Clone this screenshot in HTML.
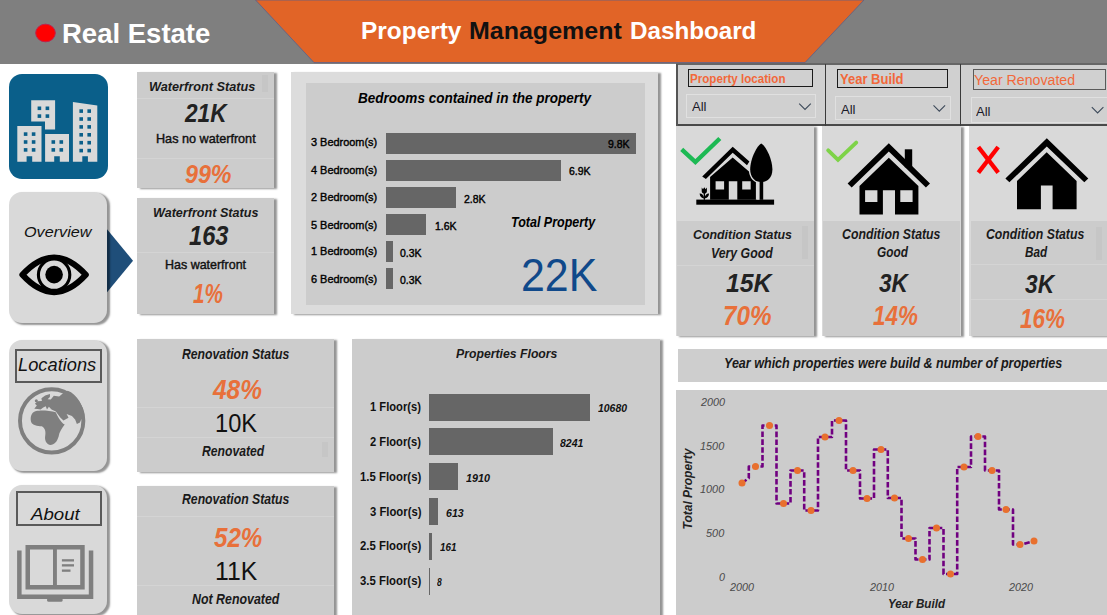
<!DOCTYPE html>
<html><head><meta charset="utf-8"><title>Property Management Dashboard</title>
<style>
html,body{margin:0;padding:0;background:#fff;}
body{width:1107px;height:615px;position:relative;overflow:hidden;font-family:"Liberation Sans",sans-serif;}
.t{position:absolute;white-space:nowrap;line-height:1;transform-origin:0 50%;}
.r{position:absolute;}
svg{position:absolute;left:0;top:0;overflow:visible;}
</style></head><body>
<div class="r" style="left:0.0px;top:0.0px;width:1107.0px;height:63.5px;background:#7F7F7F;"></div>
<svg width="1107" height="70"><polygon points="255.5,0 864,0 805,62.6 314,62.6" fill="#E16427" stroke="#5A5F8C" stroke-width="0.8"/></svg>
<svg width="1107" height="70"><ellipse cx="45.5" cy="33" rx="9.8" ry="8.8" fill="#FF0000" stroke="#C0204A" stroke-width="1"/></svg>
<span class="t" style="left:61.6px;top:18.7px;font-size:28.2px;font-weight:bold;font-style:normal;color:#fff;transform:scaleX(0.976);">Real Estate</span>
<span class="t" style="left:361.2px;top:19.2px;font-size:24.6px;font-weight:bold;font-style:normal;color:#fff;transform:scaleX(0.993);">Property</span>
<span class="t" style="left:468.7px;top:19.2px;font-size:24.6px;font-weight:bold;font-style:normal;color:#111;transform:scaleX(1.016);">Management</span>
<span class="t" style="left:630.2px;top:19.2px;font-size:24.6px;font-weight:bold;font-style:normal;color:#fff;transform:scaleX(0.984);">Dashboard</span>
<div class="r" style="left:9.0px;top:74.0px;width:98.5px;height:105.0px;background:#0A5F8A;border-radius:13px;"></div>
<svg width="140" height="200"><g fill="#D9D9D9">
<path d="M31.2,100.3H55.1V129.5H45V121.5H31.2Z"/>
<path d="M17.3,126H41.5V161.8H32.2V156.3H26.6V161.8H17.3Z"/>
<path d="M45.1,134H69V161.8H59.8V156.3H54.2V161.8H45.1Z"/>
<path d="M72.9,102.1L97.3,105.6V161.8H87.9V156.3H82.3V161.8H72.9Z"/>
</g><g fill="#0A5F8A"><rect x="37.6" y="106.5" width="3.6" height="3.6"/><rect x="37.6" y="114.3" width="3.6" height="3.6"/><rect x="45.6" y="106.5" width="3.6" height="3.6"/><rect x="45.6" y="114.3" width="3.6" height="3.6"/><rect x="23.8" y="132.3" width="3.6" height="3.6"/><rect x="23.8" y="140.2" width="3.6" height="3.6"/><rect x="23.8" y="148.1" width="3.6" height="3.6"/><rect x="31.8" y="132.3" width="3.6" height="3.6"/><rect x="31.8" y="140.2" width="3.6" height="3.6"/><rect x="31.8" y="148.1" width="3.6" height="3.6"/><rect x="51.5" y="140.2" width="3.6" height="3.6"/><rect x="51.5" y="148.1" width="3.6" height="3.6"/><rect x="59.5" y="140.2" width="3.6" height="3.6"/><rect x="59.5" y="148.1" width="3.6" height="3.6"/><rect x="79.4" y="109.3" width="3.6" height="3.6"/><rect x="79.4" y="117.2" width="3.6" height="3.6"/><rect x="79.4" y="125.1" width="3.6" height="3.6"/><rect x="79.4" y="133.0" width="3.6" height="3.6"/><rect x="79.4" y="140.9" width="3.6" height="3.6"/><rect x="79.4" y="148.8" width="3.6" height="3.6"/><rect x="87.4" y="109.3" width="3.6" height="3.6"/><rect x="87.4" y="117.2" width="3.6" height="3.6"/><rect x="87.4" y="125.1" width="3.6" height="3.6"/><rect x="87.4" y="133.0" width="3.6" height="3.6"/><rect x="87.4" y="140.9" width="3.6" height="3.6"/><rect x="87.4" y="148.8" width="3.6" height="3.6"/></g></svg>
<svg width="140" height="330"><polygon points="106,228 133,260.7 106,293.5" fill="#1F4E79"/></svg>
<div class="r" style="left:9.0px;top:192.3px;width:98.3px;height:131.2px;background:#D9D9D9;border-radius:13px;box-shadow:2.4px 1.2px 1.8px rgba(0,0,0,.42);"></div>
<span class="t" style="left:24.2px;top:224.0px;font-size:15.0px;font-weight:normal;font-style:italic;color:#111;transform:scaleX(1.079);">Overview</span>
<svg width="140" height="330"><path d="M22.4,274.8 Q54.1,240.2 85.8,274.8 Q54.1,309.4 22.4,274.8Z" fill="#D9D9D9" stroke="#000" stroke-width="6.1" stroke-linejoin="round"/>
<circle cx="54.1" cy="274.7" r="15.7" fill="#D9D9D9" stroke="#000" stroke-width="3.1"/><circle cx="54.1" cy="274.6" r="8.8" fill="#000"/></svg>
<div class="r" style="left:9.3px;top:339.8px;width:98.0px;height:131.2px;background:#D9D9D9;border-radius:13px;box-shadow:2.4px 1.2px 1.8px rgba(0,0,0,.42);"></div>
<div class="r" style="left:15.4px;top:349.0px;width:86.6px;height:34.0px;background:transparent;box-sizing:border-box;border:2.3px solid #5a5a5a;"></div>
<span class="t" style="left:18.3px;top:355.7px;font-size:18.8px;font-weight:normal;font-style:italic;color:#111;transform:scaleX(0.973);">Locations</span>
<svg width="140" height="480"><g transform="translate(12,382) scale(0.12674)">
<circle cx="313" cy="306.5" r="250" fill="none" stroke="#7F7F7F" stroke-width="31"/>
<g fill="#7F7F7F">
<path d="M172,236 C150,250 142,285 152,318 C160,340 200,348 235,350 C262,365 268,395 262,425 C256,460 270,490 300,497 C335,498 355,470 368,430 C372,395 395,365 416,336 C400,330 385,310 372,290 C362,272 352,255 345,238 C310,228 250,224 215,226 C195,226 182,230 172,236 Z"/>
<path d="M176,212 L196,186 L181,171 L202,152 L236,149 L232,129 L262,106 L300,95 L299,118 L281,136 L306,138 L330,109 L372,114 L405,86 L440,70 C510,95 572,190 572,292 L548,292 L536,320 L512,331 L498,296 L473,269 L446,259 L431,252 L446,283 L406,304 L381,281 L359,250 L346,232 L312,216 L291,196 L276,216 L266,191 L246,201 L226,216 L201,213 Z"/>
<circle cx="192" cy="148" r="12"/>
</g></g></svg>
<div class="r" style="left:9.1px;top:485.2px;width:98.0px;height:128.6px;background:#D9D9D9;border-radius:13px;box-shadow:2.4px 1.2px 1.8px rgba(0,0,0,.42);"></div>
<div class="r" style="left:15.5px;top:491.4px;width:86.3px;height:34.8px;background:transparent;box-sizing:border-box;border:2.3px solid #5a5a5a;"></div>
<span class="t" style="left:30.5px;top:506.0px;font-size:17.4px;font-weight:normal;font-style:italic;color:#111;transform:scaleX(1.074);">About</span>
<svg width="140" height="615"><g fill="#7F7F7F">
<path d="M17.1,550.6H21.6V594.5H88.8V550.6H93.3V599H17.1Z"/>
<path d="M25.5,545.1H84.7V589.5H25.5Z M30,549.6V585H53V549.6Z M56.9,549.6V585H80.2V549.6Z" fill-rule="evenodd"/>
<rect x="61.9" y="559.2" width="12.1" height="2.3"/><rect x="61.9" y="564.2" width="12.1" height="2.3"/><rect x="61.9" y="569.5" width="8.6" height="2.3"/>
<path d="M47.1,599H62.6V600.3Q62.6,601.8 61,601.8H48.7Q47.1,601.8 47.1,600.3Z"/>
</g></svg>
<div class="r" style="left:137.4px;top:72.4px;width:137.0px;height:116.0px;background:#CCCCCC;box-shadow:2.6px 1px 1.8px rgba(0,0,0,.42);"></div>
<div class="r" style="left:137.4px;top:97.5px;width:137.0px;height:1.0px;background:#D4D4D4;"></div>
<div class="r" style="left:137.4px;top:157.7px;width:137.0px;height:1.0px;background:#D4D4D4;"></div>
<div class="r" style="left:262.0px;top:75.0px;width:6.0px;height:17.0px;background:#C6C6C6;"></div>
<span class="t" style="left:149.0px;top:79.5px;font-size:13.4px;font-weight:bold;font-style:italic;color:#1a1a1a;transform:scaleX(0.948);">Waterfront Status</span>
<span class="t" style="left:184.6px;top:101.4px;font-size:24.9px;font-weight:bold;font-style:italic;color:#222;transform:scaleX(0.908);">21K</span>
<span class="t" style="left:155.8px;top:132.7px;font-size:12.2px;font-weight:normal;font-style:normal;color:#111;transform:scaleX(1.036);-webkit-text-stroke:0.4px currentColor;">Has no waterfront</span>
<span class="t" style="left:184.5px;top:161.5px;font-size:25.9px;font-weight:bold;font-style:italic;color:#E8703A;transform:scaleX(0.898);">99%</span>
<div class="r" style="left:137.4px;top:198.0px;width:137.0px;height:116.3px;background:#CCCCCC;box-shadow:2.6px 1px 1.8px rgba(0,0,0,.42);"></div>
<div class="r" style="left:137.4px;top:252.0px;width:137.0px;height:1.0px;background:#D4D4D4;"></div>
<span class="t" style="left:152.8px;top:207.3px;font-size:12.8px;font-weight:bold;font-style:italic;color:#1a1a1a;transform:scaleX(0.984);">Waterfront Status</span>
<span class="t" style="left:188.8px;top:223.3px;font-size:26.8px;font-weight:bold;font-style:italic;color:#222;transform:scaleX(0.884);">163</span>
<span class="t" style="left:164.9px;top:258.7px;font-size:12.2px;font-weight:normal;font-style:normal;color:#111;transform:scaleX(1.023);-webkit-text-stroke:0.4px currentColor;">Has waterfront</span>
<span class="t" style="left:193.0px;top:279.9px;font-size:27.3px;font-weight:bold;font-style:italic;color:#E8703A;transform:scaleX(0.759);">1%</span>
<div class="r" style="left:291.4px;top:72.4px;width:367.0px;height:241.8px;background:#DCDCDC;box-shadow:2.6px 1px 1.8px rgba(0,0,0,.42);"></div>
<div class="r" style="left:305.5px;top:82.7px;width:339.2px;height:222.0px;background:#CCCCCC;"></div>
<span class="t" style="left:358.3px;top:91.8px;font-size:13.8px;font-weight:bold;font-style:italic;color:#000;transform:scaleX(0.981);">Bedrooms contained in the property</span>
<div class="r" style="left:385.7px;top:133.2px;width:250.4px;height:20.5px;background:#666666;"></div>
<span class="t" style="left:311.2px;top:136.0px;font-size:11.7px;font-weight:normal;font-style:normal;color:#000;transform:scaleX(0.934);-webkit-text-stroke:0.4px currentColor;">3 Bedroom(s)</span>
<span class="t" style="left:607.7px;top:138.6px;font-size:11.2px;font-weight:normal;font-style:normal;color:#000;transform:scaleX(0.937);-webkit-text-stroke:0.4px currentColor;">9.8K</span>
<div class="r" style="left:385.7px;top:160.2px;width:175.3px;height:20.5px;background:#666666;"></div>
<span class="t" style="left:311.2px;top:164.1px;font-size:11.7px;font-weight:normal;font-style:normal;color:#000;transform:scaleX(0.934);-webkit-text-stroke:0.4px currentColor;">4 Bedroom(s)</span>
<span class="t" style="left:568.5px;top:165.7px;font-size:11.2px;font-weight:normal;font-style:normal;color:#000;transform:scaleX(0.937);-webkit-text-stroke:0.4px currentColor;">6.9K</span>
<div class="r" style="left:385.7px;top:187.3px;width:70.4px;height:20.5px;background:#666666;"></div>
<span class="t" style="left:311.2px;top:190.7px;font-size:11.7px;font-weight:normal;font-style:normal;color:#000;transform:scaleX(0.934);-webkit-text-stroke:0.4px currentColor;">2 Bedroom(s)</span>
<span class="t" style="left:463.6px;top:194.3px;font-size:11.2px;font-weight:normal;font-style:normal;color:#000;transform:scaleX(0.937);-webkit-text-stroke:0.4px currentColor;">2.8K</span>
<div class="r" style="left:385.7px;top:214.3px;width:40.8px;height:20.5px;background:#666666;"></div>
<span class="t" style="left:311.2px;top:219.1px;font-size:11.7px;font-weight:normal;font-style:normal;color:#000;transform:scaleX(0.934);-webkit-text-stroke:0.4px currentColor;">5 Bedroom(s)</span>
<span class="t" style="left:434.5px;top:220.7px;font-size:11.2px;font-weight:normal;font-style:normal;color:#000;transform:scaleX(0.937);-webkit-text-stroke:0.4px currentColor;">1.6K</span>
<div class="r" style="left:385.7px;top:241.4px;width:6.9px;height:20.5px;background:#666666;"></div>
<span class="t" style="left:311.2px;top:245.0px;font-size:11.7px;font-weight:normal;font-style:normal;color:#000;transform:scaleX(0.934);-webkit-text-stroke:0.4px currentColor;">1 Bedroom(s)</span>
<span class="t" style="left:399.9px;top:247.6px;font-size:11.2px;font-weight:normal;font-style:normal;color:#000;transform:scaleX(0.937);-webkit-text-stroke:0.4px currentColor;">0.3K</span>
<div class="r" style="left:385.7px;top:268.4px;width:6.9px;height:20.5px;background:#666666;"></div>
<span class="t" style="left:311.2px;top:273.1px;font-size:11.7px;font-weight:normal;font-style:normal;color:#000;transform:scaleX(0.934);-webkit-text-stroke:0.4px currentColor;">6 Bedroom(s)</span>
<span class="t" style="left:399.9px;top:274.7px;font-size:11.2px;font-weight:normal;font-style:normal;color:#000;transform:scaleX(0.937);-webkit-text-stroke:0.4px currentColor;">0.3K</span>
<span class="t" style="left:511.0px;top:216.0px;font-size:13.8px;font-weight:bold;font-style:italic;color:#000;transform:scaleX(0.905);">Total Property</span>
<span class="t" style="left:520.9px;top:251.7px;font-size:46.6px;font-weight:normal;font-style:normal;color:#10498A;transform:scaleX(0.921);">22K</span>
<div class="r" style="left:137.3px;top:339.3px;width:196.5px;height:133.0px;background:#CCCCCC;box-shadow:2.6px 1px 1.8px rgba(0,0,0,.42);"></div>
<div class="r" style="left:137.3px;top:407.3px;width:196.5px;height:1.0px;background:#D4D4D4;"></div>
<div class="r" style="left:137.3px;top:437.0px;width:196.5px;height:1.0px;background:#D4D4D4;"></div>
<div class="r" style="left:322.0px;top:442.0px;width:6.0px;height:15.0px;background:#C6C6C6;"></div>
<span class="t" style="left:182.4px;top:347.4px;font-size:14.1px;font-weight:bold;font-style:italic;color:#1a1a1a;transform:scaleX(0.867);">Renovation Status</span>
<span class="t" style="left:212.9px;top:375.9px;font-size:27.1px;font-weight:bold;font-style:italic;color:#E8703A;transform:scaleX(0.902);">48%</span>
<span class="t" style="left:214.9px;top:410.1px;font-size:26.3px;font-weight:normal;font-style:normal;color:#111;transform:scaleX(0.898);">10K</span>
<span class="t" style="left:201.5px;top:443.8px;font-size:14.0px;font-weight:bold;font-style:italic;color:#1a1a1a;transform:scaleX(0.869);">Renovated</span>
<div class="r" style="left:137.3px;top:485.7px;width:197.0px;height:140.0px;background:#CCCCCC;box-shadow:2.6px 1px 1.8px rgba(0,0,0,.42);"></div>
<div class="r" style="left:137.3px;top:516.4px;width:197.0px;height:1.0px;background:#D4D4D4;"></div>
<div class="r" style="left:137.3px;top:585.2px;width:197.0px;height:1.0px;background:#D4D4D4;"></div>
<span class="t" style="left:182.4px;top:492.3px;font-size:14.1px;font-weight:bold;font-style:italic;color:#1a1a1a;transform:scaleX(0.868);">Renovation Status</span>
<span class="t" style="left:213.8px;top:522.5px;font-size:28.2px;font-weight:bold;font-style:italic;color:#E8703A;transform:scaleX(0.856);">52%</span>
<span class="t" style="left:215.4px;top:558.0px;font-size:26.2px;font-weight:normal;font-style:normal;color:#111;transform:scaleX(0.945);">11K</span>
<span class="t" style="left:192.2px;top:591.8px;font-size:14.1px;font-weight:bold;font-style:italic;color:#1a1a1a;transform:scaleX(0.879);">Not Renovated</span>
<div class="r" style="left:351.6px;top:339.2px;width:308.0px;height:277.0px;background:#CCCCCC;box-shadow:2.6px 1px 1.8px rgba(0,0,0,.42);"></div>
<span class="t" style="left:455.9px;top:347.3px;font-size:13.7px;font-weight:bold;font-style:italic;color:#1a1a1a;transform:scaleX(0.895);">Properties Floors</span>
<div class="r" style="left:428.9px;top:393.7px;width:161.2px;height:27.0px;background:#666666;"></div>
<span class="t" style="left:370.3px;top:400.5px;font-size:12.8px;font-weight:bold;font-style:normal;color:#111;transform:scaleX(0.873);">1 Floor(s)</span>
<span class="t" style="left:597.8px;top:402.1px;font-size:11.7px;font-weight:bold;font-style:italic;color:#111;transform:scaleX(0.892);">10680</span>
<div class="r" style="left:428.9px;top:428.4px;width:123.8px;height:27.0px;background:#666666;"></div>
<span class="t" style="left:370.3px;top:436.3px;font-size:12.8px;font-weight:bold;font-style:normal;color:#111;transform:scaleX(0.873);">2 Floor(s)</span>
<span class="t" style="left:560.2px;top:437.0px;font-size:11.7px;font-weight:bold;font-style:italic;color:#111;transform:scaleX(0.899);">8241</span>
<div class="r" style="left:428.9px;top:463.2px;width:28.8px;height:27.0px;background:#666666;"></div>
<span class="t" style="left:359.9px;top:471.2px;font-size:12.8px;font-weight:bold;font-style:normal;color:#111;transform:scaleX(0.888);">1.5 Floor(s)</span>
<span class="t" style="left:465.7px;top:471.8px;font-size:11.7px;font-weight:bold;font-style:italic;color:#111;transform:scaleX(0.922);">1910</span>
<div class="r" style="left:428.9px;top:497.9px;width:9.4px;height:27.0px;background:#666666;"></div>
<span class="t" style="left:369.7px;top:506.0px;font-size:12.8px;font-weight:bold;font-style:normal;color:#111;transform:scaleX(0.883);">3 Floor(s)</span>
<span class="t" style="left:445.7px;top:506.7px;font-size:11.7px;font-weight:bold;font-style:italic;color:#111;transform:scaleX(0.904);">613</span>
<div class="r" style="left:428.9px;top:532.7px;width:2.8px;height:27.0px;background:#666666;"></div>
<span class="t" style="left:359.9px;top:539.9px;font-size:12.8px;font-weight:bold;font-style:normal;color:#111;transform:scaleX(0.888);">2.5 Floor(s)</span>
<span class="t" style="left:439.5px;top:540.5px;font-size:11.7px;font-weight:bold;font-style:italic;color:#111;transform:scaleX(0.843);">161</span>
<div class="r" style="left:428.9px;top:567.5px;width:1.1px;height:27.0px;background:#666666;"></div>
<span class="t" style="left:359.9px;top:574.7px;font-size:12.8px;font-weight:bold;font-style:normal;color:#111;transform:scaleX(0.888);">3.5 Floor(s)</span>
<span class="t" style="left:437.4px;top:576.4px;font-size:11.7px;font-weight:bold;font-style:italic;color:#111;transform:scaleX(0.726);">8</span>
<div class="r" style="left:676.0px;top:63.5px;width:431.0px;height:62.0px;background:#D0D0D0;"></div>
<div class="r" style="left:676.0px;top:63.2px;width:431.0px;height:1.6px;background:#666;"></div>
<div class="r" style="left:676.0px;top:124.2px;width:431.0px;height:1.9px;background:#4a4a4a;"></div>
<div class="r" style="left:676.0px;top:63.5px;width:1.7px;height:62.0px;background:#555;"></div>
<div class="r" style="left:824.8px;top:63.5px;width:1.7px;height:62.0px;background:#3a3a3a;"></div>
<div class="r" style="left:959.8px;top:63.5px;width:1.7px;height:62.0px;background:#3a3a3a;"></div>
<div class="r" style="left:688.3px;top:69.0px;width:124.4px;height:17.8px;background:transparent;box-sizing:border-box;border:1.8px solid #1a1a1a;"></div>
<div class="r" style="left:686.3px;top:94.4px;width:129.4px;height:23.8px;background:transparent;box-sizing:border-box;border:1.3px solid #E0E0E0;"></div>
<span class="t" style="left:690.0px;top:72.5px;font-size:12.9px;font-weight:bold;font-style:normal;color:#F2683A;transform:scaleX(0.901);">Property location</span>
<span class="t" style="left:691.9px;top:99.7px;font-size:13.4px;font-weight:normal;font-style:normal;color:#1a1a2a;transform:scaleX(0.976);">All</span>
<svg width="1107" height="130"><polyline points="799.2,103.7 805.0,109.5 810.8,103.7" fill="none" stroke="#3d4a5a" stroke-width="1.1"/></svg>
<div class="r" style="left:837.4px;top:69.0px;width:110.2px;height:19.4px;background:transparent;box-sizing:border-box;border:1.8px solid #1a1a1a;"></div>
<div class="r" style="left:835.4px;top:95.8px;width:115.2px;height:24.4px;background:transparent;box-sizing:border-box;border:1.3px solid #E0E0E0;"></div>
<span class="t" style="left:839.5px;top:72.3px;font-size:14.4px;font-weight:bold;font-style:normal;color:#F2683A;transform:scaleX(0.903);">Year Build</span>
<span class="t" style="left:841.0px;top:103.3px;font-size:13.4px;font-weight:normal;font-style:normal;color:#1a1a2a;transform:scaleX(0.976);">All</span>
<svg width="1107" height="130"><polyline points="933.5,105.4 939.3,111.2 945.1,105.4" fill="none" stroke="#3d4a5a" stroke-width="1.1"/></svg>
<div class="r" style="left:972.5px;top:69.3px;width:133.5px;height:21.1px;background:transparent;box-sizing:border-box;border:1.6px solid #5a5a5a;"></div>
<div class="r" style="left:970.5px;top:97.1px;width:141.5px;height:25.5px;background:transparent;box-sizing:border-box;border:1.3px solid #E0E0E0;"></div>
<span class="t" style="left:974.0px;top:72.8px;font-size:14.7px;font-weight:normal;font-style:normal;color:#F2683A;transform:scaleX(0.965);">Year Renovated</span>
<span class="t" style="left:976.0px;top:105.3px;font-size:13.4px;font-weight:normal;font-style:normal;color:#1a1a2a;transform:scaleX(0.976);">All</span>
<svg width="1107" height="130"><polyline points="1091.8,107.2 1097.6,113.0 1103.4,107.2" fill="none" stroke="#3d4a5a" stroke-width="1.1"/></svg>
<div class="r" style="left:676.0px;top:125.7px;width:138.4px;height:210.0px;background:#D9D9D9;box-shadow:2.6px 1px 1.8px rgba(0,0,0,.42);"></div>
<div class="r" style="left:677.2px;top:221.3px;width:136.6px;height:114.4px;background:#CCCCCC;"></div>
<div class="r" style="left:677.2px;top:264.5px;width:136.6px;height:1.0px;background:#D4D4D4;"></div>
<div class="r" style="left:822.2px;top:125.7px;width:138.8px;height:210.0px;background:#D9D9D9;box-shadow:2.6px 1px 1.8px rgba(0,0,0,.42);"></div>
<div class="r" style="left:823.4px;top:221.3px;width:137.0px;height:114.4px;background:#CCCCCC;"></div>
<div class="r" style="left:969.4px;top:125.7px;width:142.6px;height:210.0px;background:#D9D9D9;box-shadow:2.6px 1px 1.8px rgba(0,0,0,.42);"></div>
<div class="r" style="left:970.6px;top:221.3px;width:140.8px;height:114.4px;background:#CCCCCC;"></div>
<div class="r" style="left:970.6px;top:263.8px;width:140.8px;height:1.0px;background:#D4D4D4;"></div>
<div class="r" style="left:970.6px;top:298.9px;width:140.8px;height:1.0px;background:#D4D4D4;"></div>
<div class="r" style="left:802.0px;top:226.0px;width:6.0px;height:33.0px;background:#C6C6C6;"></div>
<div class="r" style="left:1095.5px;top:226.5px;width:6.2px;height:33.0px;background:#C6C6C6;"></div>
<span class="t" style="left:692.8px;top:228.3px;font-size:13.7px;font-weight:bold;font-style:italic;color:#1a1a1a;transform:scaleX(0.904);">Condition Status</span>
<span class="t" style="left:711.2px;top:246.0px;font-size:14.1px;font-weight:bold;font-style:italic;color:#1a1a1a;transform:scaleX(0.872);">Very Good</span>
<span class="t" style="left:726.0px;top:271.3px;font-size:25.9px;font-weight:bold;font-style:italic;color:#222;transform:scaleX(0.958);">15K</span>
<span class="t" style="left:722.9px;top:302.1px;font-size:27.5px;font-weight:bold;font-style:italic;color:#E8703A;transform:scaleX(0.882);">70%</span>
<span class="t" style="left:842.2px;top:228.4px;font-size:13.8px;font-weight:bold;font-style:italic;color:#1a1a1a;transform:scaleX(0.892);">Condition Status</span>
<span class="t" style="left:876.5px;top:244.8px;font-size:14.1px;font-weight:bold;font-style:italic;color:#1a1a1a;transform:scaleX(0.839);">Good</span>
<span class="t" style="left:879.1px;top:270.5px;font-size:25.8px;font-weight:bold;font-style:italic;color:#222;transform:scaleX(0.872);">3K</span>
<span class="t" style="left:873.0px;top:301.9px;font-size:27.3px;font-weight:bold;font-style:italic;color:#E8703A;transform:scaleX(0.821);">14%</span>
<span class="t" style="left:985.7px;top:228.4px;font-size:13.8px;font-weight:bold;font-style:italic;color:#1a1a1a;transform:scaleX(0.890);">Condition Status</span>
<span class="t" style="left:1024.7px;top:244.8px;font-size:14.1px;font-weight:bold;font-style:italic;color:#1a1a1a;transform:scaleX(0.832);">Bad</span>
<span class="t" style="left:1025.2px;top:271.4px;font-size:26.5px;font-weight:bold;font-style:italic;color:#222;transform:scaleX(0.857);">3K</span>
<span class="t" style="left:1020.2px;top:306.1px;font-size:26.9px;font-weight:bold;font-style:italic;color:#E8703A;transform:scaleX(0.834);">16%</span>
<svg width="1107" height="240">
<!-- card1 -->
<polyline points="681.7,149.3 695.4,162 719.8,138.5" fill="none" stroke="#1DB954" stroke-width="4.4"/>
<g fill="#000">
<rect x="696.3" y="199.6" width="77.8" height="5.1"/>
<path d="M702.2,176.5 L732.7,146.8 L749.4,161.4 L747,165.3 L732.7,152.7 L705.9,178.9 Z"/>
<path d="M710.1,199.8 V177.1 L732.7,157.6 L755.9,177.6 V199.8 H737.3 V181.3 H728.8 V199.8 Z M715.6,181.3 V189.6 H724.1 V181.3 Z M742.2,181.3 V189.6 H750.7 V181.3 Z" fill-rule="evenodd"/>
<rect x="756.5" y="180" width="3.2" height="19.6" fill="#D9D9D9"/>
<path d="M761.3,143.6 C765.5,145.5 772.4,159 772.4,169.5 C772.4,177.5 767.5,182 761.3,182 C755.1,182 750.2,177.5 750.2,169.5 C750.2,159 757.1,145.5 761.3,143.6 Z" stroke="#D9D9D9" stroke-width="2.6" paint-order="stroke"/>
<rect x="759.6" y="178" width="3.6" height="21.8"/>
<path d="M701.7,187.6 L703,189.3 L704.3,187.2 L705.6,189.3 L706.9,187.6 V191.2 C706.9,192.8 705.7,193.6 704.3,193.6 C702.9,193.6 701.7,192.8 701.7,191.2 Z"/>
<rect x="703.7" y="193" width="1.3" height="6.8"/>
<path d="M699.6,193.6 C701.8,193.4 703.8,195 704.2,198.4 C701.6,198.4 699.8,196.6 699.6,193.6 Z M709.1,193.6 C706.9,193.4 704.9,195 704.5,198.4 C707.1,198.4 708.9,196.6 709.1,193.6 Z"/>
</g>
<!-- card2 -->
<polyline points="828.2,150.4 838,159.8 856.2,142.6" fill="none" stroke="#7ED348" stroke-width="3.9" stroke-linecap="round"/>
<g fill="#000">
<path d="M847.6,183.4 L888.8,143.2 L930,183.4 L925.9,187.4 L888.8,151.6 L851.7,187.4 Z"/>
<rect x="904.8" y="149.3" width="7.4" height="18"/>
<path d="M859.5,214.6 V186 L888.8,157.7 L918.4,186 V214.6 H895 V190.2 H882.9 V214.6 Z M865.1,190.2 V202 H877.4 V190.2 Z M900.3,190.2 V202 H912.6 V190.2 Z" fill-rule="evenodd"/>
</g>
<!-- card3 -->
<g stroke="#FF0000" stroke-width="4.3" fill="none"><line x1="978.4" y1="147" x2="998.2" y2="172.6"/><line x1="998.2" y1="147" x2="978.4" y2="172.6"/></g>
<g fill="#000">
<path d="M1005.4,178.4 L1046.8,138.3 L1088.3,178.4 L1084.3,182.3 L1046.8,146.6 L1009.4,182.3 Z"/>
<path d="M1017,209.2 V181 L1046.7,152.2 L1076.6,181 V209.2 H1052.6 V185.4 H1040.9 V209.2 Z"/>
</g>
</svg>
<div class="r" style="left:678.0px;top:349.1px;width:440.0px;height:32.6px;background:#CECECE;"></div>
<span class="t" style="left:724.3px;top:356.8px;font-size:13.8px;font-weight:bold;font-style:italic;color:#1a1a1a;transform:scaleX(0.909);">Year which properties were build &amp; number of properties</span>
<div class="r" style="left:676.2px;top:390.1px;width:440.0px;height:230.0px;background:#CCCCCC;"></div>
<span class="t" style="left:700.5px;top:397.4px;font-size:11.2px;font-weight:normal;font-style:italic;color:#4a4a4a;transform:scaleX(0.969);">2000</span>
<span class="t" style="left:700.4px;top:441.1px;font-size:11.2px;font-weight:normal;font-style:italic;color:#4a4a4a;transform:scaleX(0.973);">1500</span>
<span class="t" style="left:700.4px;top:484.2px;font-size:11.2px;font-weight:normal;font-style:italic;color:#4a4a4a;transform:scaleX(0.973);">1000</span>
<span class="t" style="left:706.4px;top:528.4px;font-size:11.2px;font-weight:normal;font-style:italic;color:#4a4a4a;transform:scaleX(0.976);">500</span>
<span class="t" style="left:718.7px;top:572.2px;font-size:11.2px;font-weight:normal;font-style:italic;color:#4a4a4a;transform:scaleX(0.963);">0</span>
<span class="t" style="left:730.3px;top:581.5px;font-size:11.2px;font-weight:normal;font-style:italic;color:#4a4a4a;transform:scaleX(0.965);">2000</span>
<span class="t" style="left:869.5px;top:581.5px;font-size:11.2px;font-weight:normal;font-style:italic;color:#4a4a4a;transform:scaleX(0.965);">2010</span>
<span class="t" style="left:1008.5px;top:581.5px;font-size:11.2px;font-weight:normal;font-style:italic;color:#4a4a4a;transform:scaleX(0.965);">2020</span>
<span class="t" style="left:888.0px;top:598.0px;font-size:12.9px;font-weight:bold;font-style:italic;color:#222;transform:scaleX(0.901);">Year Build</span>
<span class="t" style="left:688px;top:489px;font-size:12px;font-weight:bold;font-style:italic;color:#222;transform:translate(-50%,-50%) rotate(-90deg);transform-origin:50% 50%;">Total Property</span>
<svg width="1107" height="615"><path d="M742.0,483.0 L748.8,478.1 V466.5 H762.5 V425.5 H776.5 V503.5 H790.5 V470.5 H804.2 V510.5 H818.0 V437.0 H832.0 V420.5 H846.0 V470.5 H860.0 V498.5 H874.0 V449.5 H887.8 V498.0 H901.5 V538.5 H915.5 V559.5 H929.5 V528.0 H943.5 V574.0 H957.2 V467.0 H971.0 V436.5 H985.0 V470.5 H999.0 V509.5 H1013.0 V544.5 H1022.0 L1034.0,541.0" fill="none" stroke="#700080" stroke-width="2.6" stroke-dasharray="5.6 2.3" stroke-linejoin="round"/>
<g fill="#E8702E"><circle cx="742.0" cy="483.0" r="3.5"/><circle cx="755.5" cy="466.5" r="3.5"/><circle cx="769.5" cy="425.5" r="3.5"/><circle cx="783.5" cy="503.5" r="3.5"/><circle cx="797.5" cy="470.5" r="3.5"/><circle cx="811.0" cy="510.5" r="3.5"/><circle cx="825.0" cy="437.0" r="3.5"/><circle cx="839.0" cy="420.5" r="3.5"/><circle cx="853.0" cy="470.5" r="3.5"/><circle cx="867.0" cy="498.5" r="3.5"/><circle cx="881.0" cy="449.5" r="3.5"/><circle cx="894.5" cy="498.0" r="3.5"/><circle cx="908.5" cy="538.5" r="3.5"/><circle cx="922.5" cy="559.5" r="3.5"/><circle cx="936.5" cy="528.0" r="3.5"/><circle cx="950.5" cy="574.0" r="3.5"/><circle cx="964.0" cy="467.0" r="3.5"/><circle cx="978.0" cy="436.5" r="3.5"/><circle cx="992.0" cy="470.5" r="3.5"/><circle cx="1006.0" cy="509.5" r="3.5"/><circle cx="1020.0" cy="544.5" r="3.5"/><circle cx="1034.0" cy="541.0" r="3.5"/></g></svg>
</body></html>
